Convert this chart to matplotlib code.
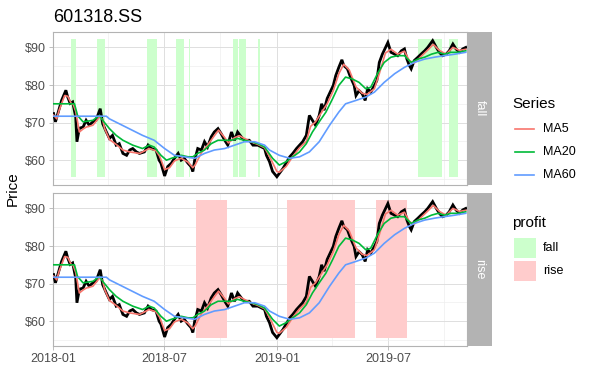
import pandas as pd
import matplotlib
matplotlib.use("Agg")
import matplotlib.pyplot as plt
import matplotlib.dates as mdates
from matplotlib.ticker import MultipleLocator, FuncFormatter
from matplotlib.lines import Line2D
from matplotlib.patches import Rectangle

plt.rcParams["font.family"] = ["Liberation Sans", "DejaVu Sans"]

# ---- data ----
close_dates = [
    "2018-01-02", "2018-01-05", "2018-01-15", "2018-01-22", "2018-01-25", "2018-01-29",
    "2018-02-02", "2018-02-07", "2018-02-09", "2018-02-13", "2018-02-19", "2018-02-24",
    "2018-03-01", "2018-03-07", "2018-03-12", "2018-03-19", "2018-03-23", "2018-03-29",
    "2018-04-03", "2018-04-08", "2018-04-14", "2018-04-19", "2018-04-25", "2018-05-01",
    "2018-05-06", "2018-05-11", "2018-05-17", "2018-05-22", "2018-05-30", "2018-06-05",
    "2018-06-10", "2018-06-18", "2018-06-23", "2018-06-26", "2018-07-02", "2018-07-07",
    "2018-07-13", "2018-07-18", "2018-07-24", "2018-07-29", "2018-08-03", "2018-08-09",
    "2018-08-14", "2018-08-17", "2018-08-20", "2018-08-25", "2018-08-31", "2018-09-05",
    "2018-09-10", "2018-09-16", "2018-09-21", "2018-09-27", "2018-10-02", "2018-10-08",
    "2018-10-13", "2018-10-19", "2018-10-24", "2018-10-29", "2018-11-04", "2018-11-09",
    "2018-11-17", "2018-11-23", "2018-12-01", "2018-12-07", "2018-12-12", "2018-12-15",
    "2018-12-20", "2018-12-25", "2019-01-01", "2019-01-05", "2019-01-11", "2019-01-16",
    "2019-01-22", "2019-01-27", "2019-02-02", "2019-02-07", "2019-02-12", "2019-02-18",
    "2019-02-23", "2019-02-28", "2019-03-05", "2019-03-11", "2019-03-15", "2019-03-19",
    "2019-03-24", "2019-03-30", "2019-04-03", "2019-04-07", "2019-04-12", "2019-04-17",
    "2019-04-20", "2019-04-26", "2019-05-01", "2019-05-07", "2019-05-10", "2019-05-15",
    "2019-05-20", "2019-05-25", "2019-05-29", "2019-06-03", "2019-06-09", "2019-06-13",
    "2019-06-17", "2019-06-22", "2019-06-26", "2019-07-01", "2019-07-06", "2019-07-12",
    "2019-07-17", "2019-07-23", "2019-07-28", "2019-08-01", "2019-08-05", "2019-08-08",
    "2019-08-13", "2019-08-19", "2019-08-24", "2019-08-30", "2019-09-04", "2019-09-12",
    "2019-09-18", "2019-09-23", "2019-09-28", "2019-10-04", "2019-10-09", "2019-10-15",
    "2019-10-20", "2019-10-26", "2019-10-31", "2019-11-05",
]
close = [
    72.4, 70.2, 75.9, 78.6, 76.8, 75.1,
    75.5, 71.5, 64.9, 68.5, 68.8, 70.6,
    69.3, 70.2, 70.6, 73.7, 69.7, 67.5,
    65.8, 66.6, 64.0, 64.4, 61.8, 61.3,
    62.7, 63.1, 62.2, 61.8, 62.2, 64.0,
    63.1, 62.7, 60.0, 59.2, 55.8, 58.3,
    59.2, 60.5, 61.8, 60.0, 60.5, 59.2,
    58.3, 57.0, 60.0, 63.1, 62.7, 64.9,
    63.5, 66.2, 67.5, 68.4, 67.1, 65.3,
    64.0, 67.5, 65.3, 67.5, 66.2, 65.3,
    65.3, 64.0, 64.0, 63.5, 63.1, 61.3,
    59.6, 57.0, 55.6, 56.5, 57.8, 59.2,
    60.9, 61.8, 63.1, 64.0, 64.9, 66.6,
    71.9, 70.6, 69.3, 71.9, 75.0, 73.3,
    76.4, 78.5, 79.9, 82.5, 84.7, 86.7,
    85.2, 84.3, 82.1, 79.9, 77.2, 78.5,
    77.7, 75.9, 79.0, 78.1, 79.9, 81.2,
    86.0, 88.2, 89.6, 91.3, 88.7, 88.2,
    87.8, 89.1, 89.6, 86.9, 85.2, 84.3,
    86.5, 87.4, 88.2, 89.1, 90.0, 91.8,
    90.0, 88.7, 87.8, 88.2, 89.1, 90.9,
    89.6, 88.7, 89.6, 90.0,
]

ma5_dates = [
    "2018-01-02", "2018-01-07", "2018-01-11", "2018-01-20", "2018-01-25", "2018-01-31",
    "2018-02-03", "2018-02-07", "2018-02-13", "2018-02-19", "2018-02-24", "2018-03-07",
    "2018-03-13", "2018-03-18", "2018-03-23", "2018-03-26", "2018-04-03", "2018-04-14",
    "2018-04-25", "2018-05-06", "2018-05-22", "2018-06-07", "2018-06-18", "2018-06-24",
    "2018-07-02", "2018-07-10", "2018-07-18", "2018-07-29", "2018-08-09", "2018-08-17",
    "2018-08-21", "2018-08-31", "2018-09-10", "2018-09-21", "2018-09-28", "2018-10-08",
    "2018-10-14", "2018-10-24", "2018-11-01", "2018-11-09", "2018-11-21", "2018-12-01",
    "2018-12-12", "2018-12-20", "2019-01-01", "2019-01-05", "2019-01-16", "2019-01-27",
    "2019-02-07", "2019-02-18", "2019-02-25", "2019-03-05", "2019-03-14", "2019-03-24",
    "2019-04-03", "2019-04-12", "2019-04-20", "2019-04-29", "2019-05-10", "2019-05-20",
    "2019-05-28", "2019-06-09", "2019-06-17", "2019-06-27", "2019-07-06", "2019-07-17",
    "2019-07-28", "2019-08-05", "2019-08-13", "2019-08-24", "2019-09-04", "2019-09-13",
    "2019-09-23", "2019-10-04", "2019-10-15", "2019-10-26", "2019-11-05",
]
ma5 = [
    72.0, 71.0, 73.3, 77.2, 77.0, 75.0,
    74.8, 73.0, 67.5, 68.3, 68.8, 69.3,
    70.5, 71.5, 70.8, 68.5, 65.5, 64.2,
    62.7, 62.2, 61.8, 63.1, 62.5, 61.0,
    57.5, 58.0, 59.8, 60.5, 59.5, 58.0,
    58.8, 62.0, 64.0, 66.5, 68.0, 66.0,
    64.6, 66.0, 66.5, 65.8, 64.8, 64.2,
    63.3, 61.0, 57.0, 56.8, 58.3, 61.0,
    63.3, 65.0, 69.0, 70.2, 72.5, 75.0,
    78.5, 83.0, 85.5, 84.0, 79.5, 77.8,
    77.5, 79.0, 83.0, 88.5, 89.5, 88.2,
    89.0, 86.5, 85.8, 87.6, 89.3, 90.8,
    89.2, 88.2, 90.0, 89.2, 89.5,
]

ma20_dates = [
    "2018-01-02", "2018-02-05", "2018-02-10", "2018-02-19", "2018-03-07", "2018-03-18",
    "2018-03-23", "2018-04-03", "2018-04-14", "2018-04-25", "2018-05-11", "2018-05-27",
    "2018-06-07", "2018-06-15", "2018-06-26", "2018-07-05", "2018-07-13", "2018-07-21",
    "2018-07-29", "2018-08-09", "2018-08-17", "2018-08-25", "2018-09-05", "2018-09-16",
    "2018-09-27", "2018-10-08", "2018-10-19", "2018-10-29", "2018-11-09", "2018-11-20",
    "2018-12-01", "2018-12-12", "2018-12-25", "2019-01-05", "2019-01-16", "2019-01-27",
    "2019-02-07", "2019-02-18", "2019-02-28", "2019-03-11", "2019-03-22", "2019-04-02",
    "2019-04-12", "2019-04-23", "2019-05-04", "2019-05-15", "2019-05-26", "2019-06-03",
    "2019-06-14", "2019-06-25", "2019-07-06", "2019-07-17", "2019-07-28", "2019-08-08",
    "2019-08-19", "2019-08-30", "2019-09-10", "2019-09-21", "2019-10-01", "2019-10-12",
    "2019-10-23", "2019-11-05",
]
ma20 = [
    75.0, 75.0, 71.9, 70.2, 70.6, 71.9,
    70.6, 68.4, 66.6, 65.3, 64.0, 63.1,
    64.0, 63.5, 61.3, 60.0, 60.5, 60.9,
    61.3, 60.9, 60.9, 61.8, 62.7, 64.4,
    65.3, 65.3, 65.3, 65.8, 65.3, 64.9,
    64.4, 63.5, 60.5, 58.7, 59.6, 60.9,
    62.2, 64.4, 67.5, 70.2, 72.8, 76.4,
    79.9, 82.1, 81.6, 80.7, 79.0, 79.4,
    83.0, 86.0, 87.4, 87.8, 87.8, 86.0,
    86.9, 87.4, 88.2, 88.7, 88.2, 88.7,
    88.7, 89.1,
]

ma60_dates = [
    "2018-01-02", "2018-03-29", "2018-04-03", "2018-04-30", "2018-05-27", "2018-06-15",
    "2018-07-02", "2018-07-18", "2018-08-03", "2018-08-20", "2018-09-05", "2018-09-21",
    "2018-10-08", "2018-10-24", "2018-11-09", "2018-11-26", "2018-12-12", "2018-12-20",
    "2019-01-05", "2019-01-22", "2019-02-07", "2019-02-23", "2019-03-11", "2019-03-28",
    "2019-04-12", "2019-04-23", "2019-05-10", "2019-05-26", "2019-06-09", "2019-06-25",
    "2019-07-12", "2019-07-28", "2019-08-13", "2019-08-30", "2019-09-15", "2019-10-01",
    "2019-10-18", "2019-11-05",
]
ma60 = [
    71.7, 71.7, 71.0, 68.8, 66.6, 65.3,
    63.1, 61.3, 60.9, 60.5, 61.8, 62.7,
    63.1, 64.0, 64.9, 64.9, 64.0, 62.7,
    61.3, 60.5, 60.9, 62.2, 64.9, 69.3,
    72.8, 75.0, 75.9, 76.8, 78.1, 80.7,
    83.0, 84.7, 86.0, 86.9, 87.4, 87.8,
    88.2, 88.7,
]

fall_start = ["2018-01-30", "2018-03-13", "2018-06-04", "2018-07-21", "2018-08-10",
              "2018-10-21", "2018-11-01", "2018-12-02", "2019-08-19", "2019-10-09"]
fall_end = ["2018-02-08", "2018-03-26", "2018-06-19", "2018-08-03", "2018-08-13",
            "2018-10-29", "2018-11-12", "2018-12-05", "2019-09-27", "2019-10-24"]
rise_start = ["2018-08-22", "2019-01-17", "2019-06-11"]
rise_end = ["2018-10-11", "2019-05-08", "2019-08-01"]
band_low, band_high = 55.4, 92.3

series_names = ["MA5", "MA20", "MA60"]
series_colors = ["#F8766D", "#00BA38", "#619CFF"]
profit_names = ["fall", "rise"]
profit_colors = ["#CCFFCC", "#FFCCCC"]

# ---- layout ----
W, H = 589, 392
fig = plt.figure(figsize=(W / 100, H / 100), dpi=100, facecolor="white")


def box(x0, y0, x1, y1):
    return [x0 / W, 1 - y1 / H, (x1 - x0) / W, (y1 - y0) / H]


BORDER = "#B3B3B3"
TXT = "#4D4D4D"

panels = [
    (box(53, 32, 467, 185), box(467, 32, 492, 185), "fall", fall_start, fall_end, profit_colors[0]),
    (box(53, 193, 467, 346), box(467, 193, 492, 346), "rise", rise_start, rise_end, profit_colors[1]),
]

cd = pd.to_datetime(close_dates)
for i, (rect, srect, label, starts, ends, fc) in enumerate(panels):
    ax = fig.add_axes(rect)
    ax.set_axisbelow(True)
    for s, e in zip(pd.to_datetime(starts), pd.to_datetime(ends)):
        ax.fill_between([s, e], band_low, band_high, color=fc, lw=0, zorder=1)
    ax.plot(cd, close, color="black", lw=2.0, zorder=3, solid_joinstyle="miter")
    for d, v, c in zip([ma5_dates, ma20_dates, ma60_dates], [ma5, ma20, ma60], series_colors):
        ax.plot(pd.to_datetime(d), v, color=c, lw=1.2, zorder=4)

    ax.set_xlim(pd.Timestamp("2018-01-01"), pd.Timestamp("2019-11-07"))
    ax.set_ylim(53.4, 94.1)
    ax.xaxis.set_major_locator(mdates.MonthLocator(bymonth=[1, 7]))
    ax.xaxis.set_minor_locator(mdates.MonthLocator(bymonth=[4, 10]))
    ax.xaxis.set_major_formatter(mdates.DateFormatter("%Y-%m"))
    ax.yaxis.set_major_locator(MultipleLocator(10))
    ax.yaxis.set_minor_locator(MultipleLocator(5))
    ax.yaxis.set_major_formatter(FuncFormatter(lambda v, p: f"${v:.0f}"))
    ax.grid(which="major", color="#DEDEDE", lw=0.7)
    ax.grid(which="minor", color="#EDEDED", lw=0.45)
    for sp in ax.spines.values():
        sp.set_color(BORDER)
        sp.set_linewidth(0.8)
    ax.tick_params(which="minor", length=0)
    ax.tick_params(which="major", color=BORDER, length=3, width=0.6,
                   labelsize=9, labelcolor=TXT, pad=2)
    if i == 0:
        ax.tick_params(axis="x", which="major", length=0, labelbottom=False)

    sax = fig.add_axes(srect)
    sax.set_facecolor(BORDER)
    sax.set_xticks([])
    sax.set_yticks([])
    for sp in sax.spines.values():
        sp.set_visible(False)
    sax.text(0.5, 0.5, label, rotation=-90, color="white", fontsize=9,
             ha="center", va="center", transform=sax.transAxes)

# titles
fig.text(53 / W, 1 - 18 / H, "601318.SS", fontsize=13, ha="left", va="center")
fig.text(13 / W, 1 - 189 / H, "Price", fontsize=11, rotation=90, ha="center", va="center")

# legend: Series
fig.text(512 / W, 1 - 104 / H, "Series", fontsize=11, ha="left", va="center")
for k, (n, c) in enumerate(zip(series_names, series_colors)):
    y = 1 - (129 + k * 23) / H
    fig.add_artist(Line2D([515 / W, 534 / W], [y, y], color=c, lw=1.2))
    fig.text(543 / W, y, n, fontsize=9, ha="left", va="center")

# legend: profit
fig.text(512 / W, 1 - 223 / H, "profit", fontsize=11, ha="left", va="center")
for k, (n, c) in enumerate(zip(profit_names, profit_colors)):
    y0 = 238 + k * 23
    fig.add_artist(Rectangle((514 / W, 1 - (y0 + 20) / H), 22 / W, 20 / H,
                             facecolor=c, edgecolor="none"))
    fig.text(543 / W, 1 - (y0 + 10) / H, n, fontsize=9, ha="left", va="center")

fig.savefig("out.png", dpi=100, facecolor="white")
